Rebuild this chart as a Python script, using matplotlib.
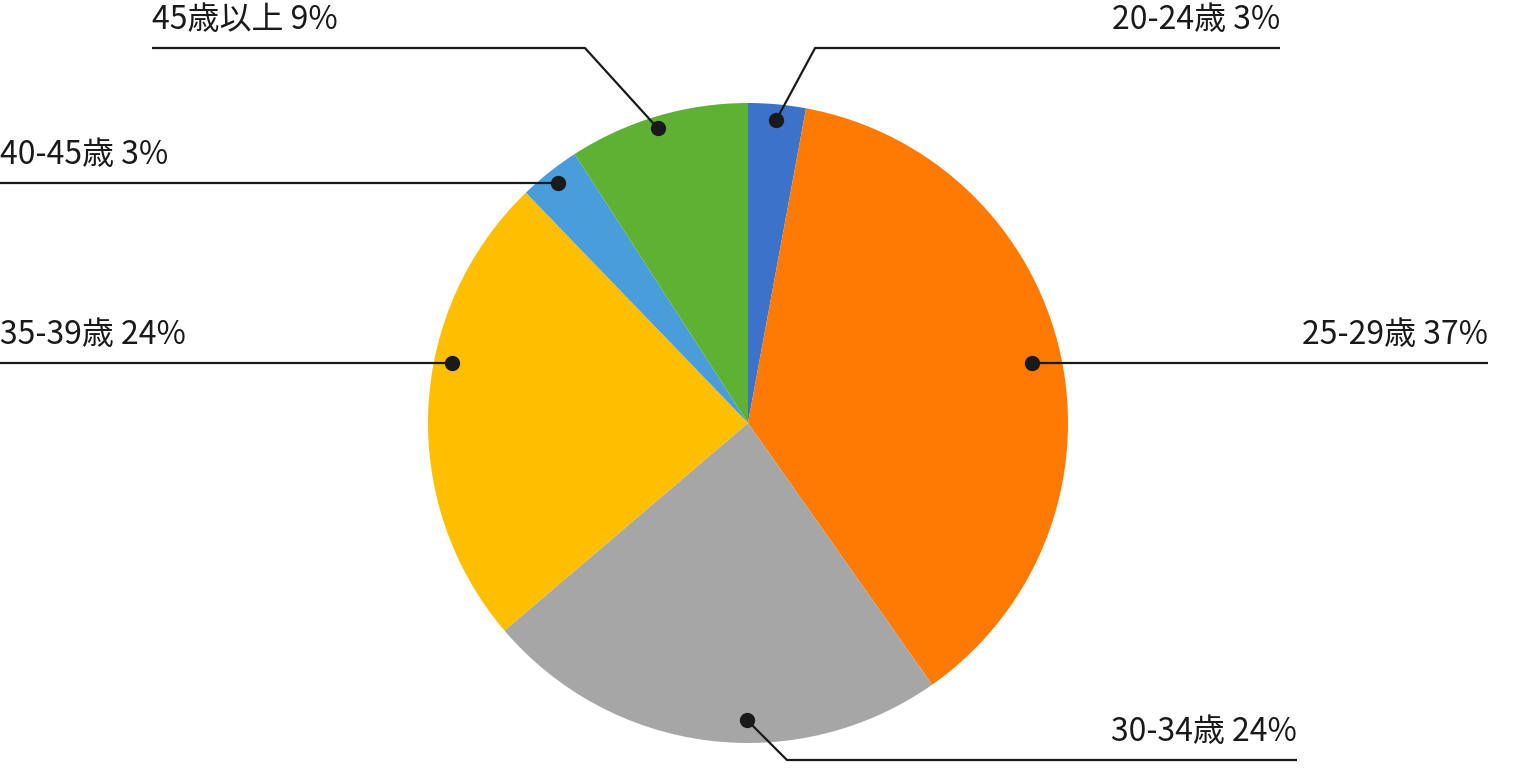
import numpy as np
import matplotlib
matplotlib.use("Agg")
import matplotlib.pyplot as plt

plt.rcParams['font.family'] = ['Noto Sans CJK JP', 'DejaVu Sans']

# data (percent)
labels = ["20-24歳", "25-29歳", "30-34歳", "35-39歳", "40-45歳", "45歳以上"]
values = [2.9, 37.3, 23.5, 24.0, 3.1, 9.1]
shown = ["3%", "37%", "24%", "24%", "3%", "9%"]
colors = ["#3d72c9", "#fe7a03", "#a6a6a6", "#fdbf00", "#4a9ddb", "#5fb133"]

W, H = 1516, 770
cx, cy, R = 748, 423, 320   # pixel coords, y from top

# label layout: anchor angle (deg), anchor radius (px), line y, elbow shift, line far end x
anchor_deg = [84.7, 12.0, -90.2, 168.5, 128.4, 107.0]
anchor_r = [304, 290, 297, 302, 306, 308]
line_y = [48, 363, 760, 363, 183, 48]
elbow_dx = [39, 0, 40, 0, 0, -73]
line_end = [1280, 1488, 1297, 0, 0, 152]


def py(y):
    return H - y


fig = plt.figure(figsize=(W / 100, H / 100), dpi=100)
ax = fig.add_axes([0, 0, 1, 1])
ax.pie(values, colors=colors, startangle=90, counterclock=False,
       center=(cx, py(cy)), radius=R, wedgeprops=dict(linewidth=0))
ax.set_xlim(0, W)
ax.set_ylim(0, H)
ax.set_aspect('auto')
ax.axis('off')

ink = "#1a1a1a"
for i in range(len(labels)):
    a = np.deg2rad(anchor_deg[i])
    dx = cx + anchor_r[i] * np.cos(a)
    dy = cy - anchor_r[i] * np.sin(a)
    ly = line_y[i]
    right = line_end[i] > cx
    ex = dx + elbow_dx[i]
    xs = [dx, ex, line_end[i]]
    ys = [py(dy), py(ly), py(ly)]
    ax.plot(xs, ys, color=ink, lw=1.6, solid_capstyle='butt')
    ax.plot([dx], [py(dy)], 'o', color=ink, markersize=10)
    txt = labels[i] + " " + shown[i]
    ax.text(line_end[i], py(ly - 19), txt, ha='right' if right else 'left',
            va='baseline', fontsize=23, color=ink)

fig.savefig("out.png", dpi=100)
